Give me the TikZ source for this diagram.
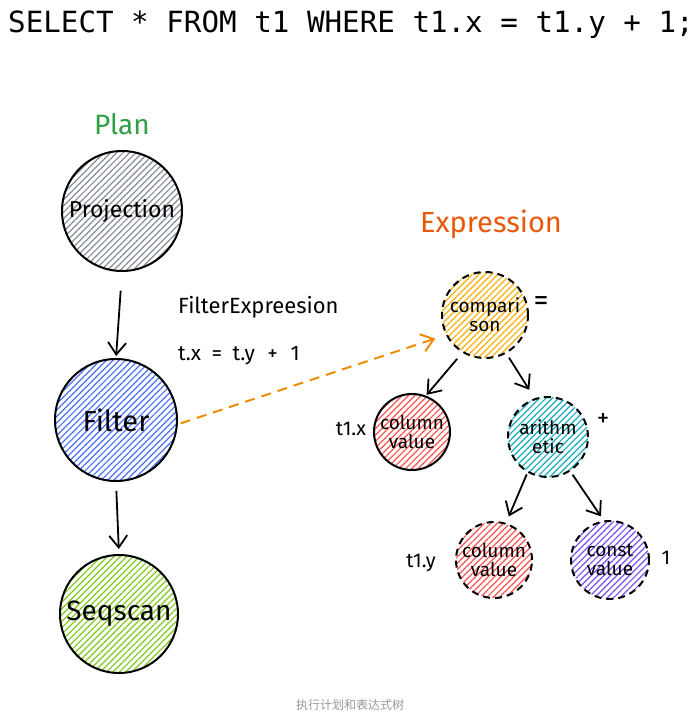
\documentclass[tikz,border=0pt]{standalone}
\usepackage{fontspec}
\setmainfont{Fira Sans}
\newfontfamily\monofont{DejaVu Sans Mono}
\newfontfamily\cjk{Noto Sans CJK SC}
\usetikzlibrary{patterns.meta,arrows.meta}
\definecolor{hgray}{HTML}{868E96}
\definecolor{hblue}{HTML}{4C6EF5}
\definecolor{hgreen}{HTML}{82C91E}
\definecolor{hyellow}{HTML}{FAB005}
\definecolor{hred}{HTML}{FA5252}
\definecolor{hcyan}{HTML}{15AABF}
\definecolor{hpurple}{HTML}{7950F2}
\definecolor{plangreen}{HTML}{2F9E44}
\definecolor{exprred}{HTML}{E8590C}
\definecolor{dashorange}{HTML}{F08C00}
\definecolor{capgray}{HTML}{999999}
\tikzset{
  fsz/.style={font=\fontsize{#1}{#1}\selectfont},
  hatch/.style={pattern={Lines[angle=45,distance=4.5pt,line width=1.2pt]}, pattern color=#1},
  circnode/.style={circle, draw=black, line width=2pt, inner sep=0pt, minimum size=#1},
  dashnode/.style={circle, draw=black, line width=2pt, dash pattern=on 7pt off 5pt, inner sep=0pt, minimum size=#1},
  exprtext/.style={fsz=19, align=center, text depth=0pt},
  arr/.style={draw=black, line width=1.8pt, -{Straight Barb[length=12pt,width=18pt,line width=1.8pt]}},
  lbl/.style={fsz=20, inner sep=0pt},
}
\begin{document}
\begin{tikzpicture}[x=1pt,y=-1pt]
\useasboundingbox (0,0) rectangle (699,715);
\fill[white] (0,0) rectangle (699,715);

% title
\node[anchor=base west, inner sep=0pt, font=\monofont\fontsize{29.2}{29.2}\selectfont] (title) at (8,32) {SELECT * FROM t1 WHERE t1.x = t1.y + 1;};

% plan
\node[fsz=28, text=plangreen, inner sep=0pt] (plan) at (122,124) {Plan};
\node[circnode=120, hatch=hgray, fsz=23] (proj) at (122,211) {Projection};
\node[circnode=122, hatch=hblue, fsz=29] (filter) at (116,420) {Filter};
\node[circnode=118, hatch=hgreen, fsz=28] (seq) at (119,614) {Seqscan};

\draw[arr, shorten <=19pt, shorten >=2pt] (proj.south) -- (filter.north);
\draw[arr, shorten <=9pt, shorten >=5pt] (filter.south) -- (seq.north);

\node[fsz=22, anchor=west, inner sep=0pt] (fexpr) at (178,307) {FilterExpreesion};
\node[fsz=21, anchor=west, inner sep=0pt] (fcond) at (178,356) {t.x\hspace{0.5em}=\hspace{0.5em}t.y\hspace{0.6em}+\hspace{0.6em}1};

% expression
\node[fsz=29, text=exprred, inner sep=0pt] (expr) at (491,224) {Expression};
\node[dashnode=86, hatch=hyellow, exprtext] (comp) at (485,315) {compari\\son};
\node[circnode=76, hatch=hred, exprtext] (colx) at (412,432) {column\\value};
\node[dashnode=80, hatch=hcyan, exprtext] (arith) at (548,437) {arithm\\etic};
\node[dashnode=76, hatch=hred, exprtext] (coly) at (494,560) {column\\value};
\node[dashnode=78, hatch=hpurple, exprtext] (const) at (610,560) {const\\value};

\node[fsz=30, inner sep=0pt] (eq) at (541,304) {=};
\node[lbl] (t1x) at (351,429) {t1.x};
\node[fsz=25, inner sep=0pt] (plus) at (603,420) {+};
\node[lbl] (t1y) at (421,563) {t1.y};
\node[lbl] (one) at (666,558) {1};

\draw[arr, shorten <=8pt, shorten >=1pt] (comp.239) -- (colx.69);
\draw[arr, shorten <=5pt, shorten >=10pt] (comp.-61) -- (arith.109);
\draw[arr, shorten <=2pt, shorten >=7pt] (arith.240) -- (coly.72);
\draw[arr, shorten <=4pt, shorten >=5pt] (arith.-57) -- (const.99);

\draw[dashorange, line width=2pt, dash pattern=on 10pt off 7pt,
  -{Straight Barb[length=12pt,width=18pt,line width=2pt]}, shorten <=3pt, shorten >=11pt] (filter.-4) -- (comp.207);

% caption
\node[font=\cjk\fontsize{12}{12}\selectfont, text=capgray, inner sep=0pt] (cap) at (350,705) {执行计划和表达式树};
\end{tikzpicture}
\end{document}
